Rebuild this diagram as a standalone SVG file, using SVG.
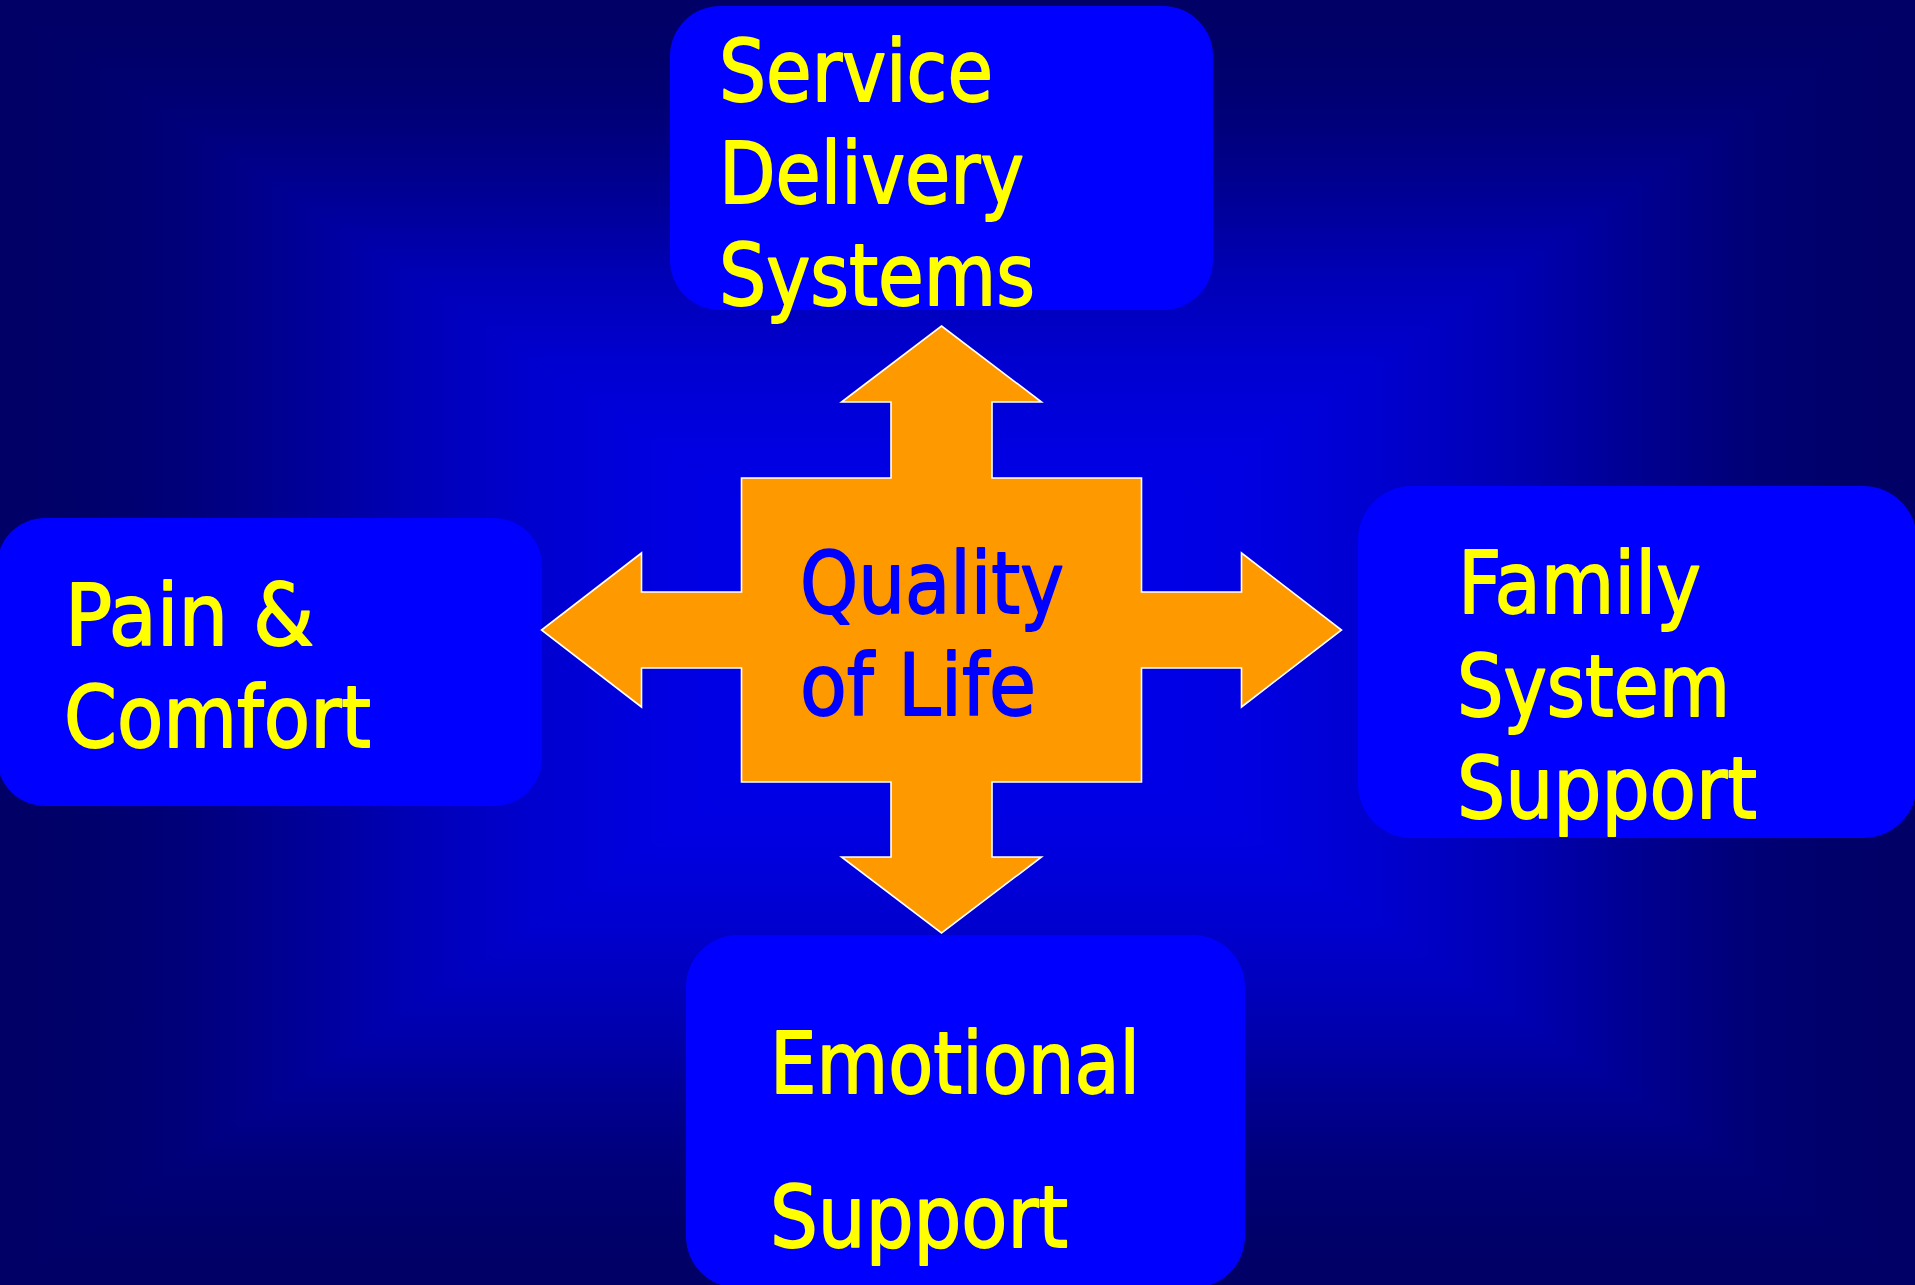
<svg xmlns="http://www.w3.org/2000/svg" width="1915" height="1285" viewBox="0 0 1915 1285">
<defs>
<style>
.box{fill:#0000FF;}
.lbl{font-family:"DejaVu Sans","Verdana","Liberation Sans",sans-serif;font-size:85px;fill:#FFFF00;stroke:#FFFF00;stroke-width:1.8;stroke-linejoin:round;}
.qol{font-family:"DejaVu Sans","Verdana","Liberation Sans",sans-serif;font-size:85px;fill:#0000FF;stroke:#0000FF;stroke-width:1.8;stroke-linejoin:round;}
.cross{fill:#FF9900;stroke:#FFFFFF;stroke-width:1.6;stroke-linejoin:miter;}
</style>
<radialGradient id="base" cx="957.5" cy="642.5" r="1000" gradientUnits="userSpaceOnUse">
<stop offset="0" stop-color="#0000EE"/>
<stop offset="1" stop-color="#000066"/>
</radialGradient>
<linearGradient id="gT" gradientUnits="userSpaceOnUse" x1="0" y1="0" x2="0" y2="642.5">
<stop offset="0" stop-color="#000066"/>
<stop offset="0.08" stop-color="#00006A"/>
<stop offset="0.18" stop-color="#000078"/>
<stop offset="0.3" stop-color="#000094"/>
<stop offset="0.42" stop-color="#0000B4"/>
<stop offset="0.55" stop-color="#0000CE"/>
<stop offset="0.7" stop-color="#0000E2"/>
<stop offset="0.85" stop-color="#0000EB"/>
<stop offset="1" stop-color="#0000EE"/>
</linearGradient>
<linearGradient id="gB" href="#gT" gradientUnits="userSpaceOnUse" x1="0" y1="1285" x2="0" y2="642.5"/>
<linearGradient id="gL" href="#gT" gradientUnits="userSpaceOnUse" x1="0" y1="0" x2="957.5" y2="0"/>
<linearGradient id="gR" href="#gT" gradientUnits="userSpaceOnUse" x1="1915" y1="0" x2="957.5" y2="0"/>
</defs>

<g id="background">
<rect x="0" y="0" width="1915" height="1285" fill="url(#base)"/>
<polygon points="0,0 957.5,642.5 0,1285" fill="url(#gL)"/>
<polygon points="1915,0 957.5,642.5 1915,1285" fill="url(#gR)"/>
<polygon points="0,0 1915,0 957.5,642.5" fill="url(#gT)"/>
<polygon points="0,1285 1915,1285 957.5,642.5" fill="url(#gB)"/>
</g>

<g id="node-service-delivery">
<rect class="box" x="670" y="6" width="543" height="304" rx="50" ry="50"/>
<text class="lbl" x="719" y="101" textLength="274" lengthAdjust="spacingAndGlyphs">Service</text>
<text class="lbl" x="719" y="203" textLength="305" lengthAdjust="spacingAndGlyphs">Delivery</text>
<text class="lbl" x="719" y="305" textLength="316" lengthAdjust="spacingAndGlyphs">Systems</text>
</g>

<g id="node-pain-comfort">
<rect class="box" x="-3" y="518" width="545" height="288" rx="48" ry="48"/>
<text class="lbl" x="65" y="645" textLength="249" lengthAdjust="spacingAndGlyphs">Pain &amp;</text>
<text class="lbl" x="64" y="747" textLength="307" lengthAdjust="spacingAndGlyphs">Comfort</text>
</g>

<g id="node-family-system">
<rect class="box" x="1358" y="486" width="559" height="352" rx="54" ry="54"/>
<text class="lbl" x="1458" y="613" textLength="243" lengthAdjust="spacingAndGlyphs">Family</text>
<text class="lbl" x="1457" y="716" textLength="273" lengthAdjust="spacingAndGlyphs">System</text>
<text class="lbl" x="1457" y="818" textLength="300" lengthAdjust="spacingAndGlyphs">Support</text>
</g>

<g id="node-emotional-support">
<rect class="box" x="686" y="935" width="559" height="353" rx="52" ry="52"/>
<text class="lbl" x="770" y="1093" textLength="370" lengthAdjust="spacingAndGlyphs">Emotional</text>
<text class="lbl" x="770" y="1247" textLength="298" lengthAdjust="spacingAndGlyphs">Support</text>
</g>

<g id="node-quality-of-life">
<polygon class="cross" points="941.5,326 1041.5,402 992,402 992,478 1141.5,478 1141.5,592 1241.5,592 1241.5,553 1341.5,630 1241.5,707 1241.5,668 1141.5,668 1141.5,782 992,782 992,857 1041.5,857 941.5,933 841.5,857 891,857 891,782 741.5,782 741.5,668 641.5,668 641.5,707 541.5,630 641.5,553 641.5,592 741.5,592 741.5,478 891,478 891,402 841.5,402"/>
<text class="qol" x="800" y="613" textLength="264" lengthAdjust="spacingAndGlyphs">Quality</text>
<text class="qol" x="800" y="715" textLength="236" lengthAdjust="spacingAndGlyphs">of Life</text>
</g>
</svg>
